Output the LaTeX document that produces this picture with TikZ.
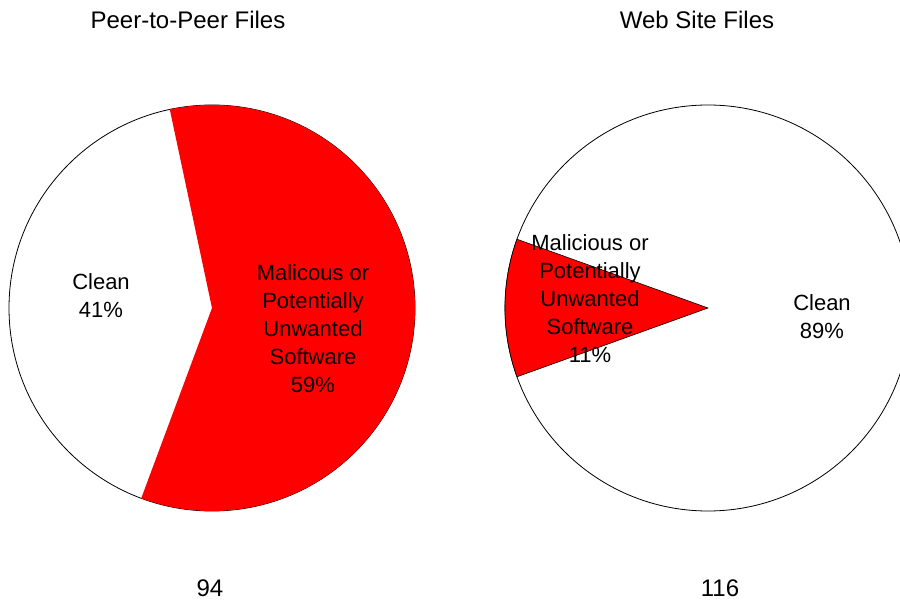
\documentclass[tikz,border=0pt]{standalone}
\usepackage{fontspec}
\setmainfont{Liberation Sans}
\begin{document}
\begin{tikzpicture}[x=0.5pt,y=0.5pt,
    lbl/.style={align=center,inner sep=0pt,font=\fontsize{11}{14}\selectfont},
    ttl/.style={inner sep=0pt,font=\fontsize{12}{14}\selectfont},
    rim/.style={draw=black,line width=0.4pt}]
            \useasboundingbox (0,0) rectangle (900,600);
            \clip (0,0) rectangle (900,600);
            \coordinate (P) at (212,292);
            \coordinate (W) at (708,292);
            % peer-to-peer pie
            \draw[rim,fill=white] (P) circle[radius=203];
            \fill[red] (P) -- ++(102:203) arc[start angle=102,end angle=-110.4,radius=203] -- cycle;
            % web site pie
            \draw[rim,fill=white] (W) circle[radius=203];
            \filldraw[red,draw=black,line width=0.3pt] (W) -- ++(160.2:203) arc[start angle=160.2,end angle=199.8,radius=203] -- cycle;
            \node[ttl] (T1) at (188,580){Peer-to-Peer Files};
            \node[ttl] (T2) at (697,580){Web Site Files};
            \node[lbl] (C1) at (101,304){Clean\\41\%};
            \node[lbl] (M1) at (313,271){Malicous or\\Potentially\\Unwanted\\Software\\59\%};
            \node[lbl] (M2) at (590,301){Malicious or\\Potentially\\Unwanted\\Software\\11\%};
            \node[lbl] (C2) at (822,283){Clean\\89\%};
            \node[ttl] (N1) at (210,12){94};
            \node[ttl] (N2) at (720,12){116};
        \end{tikzpicture}
\end{document}
